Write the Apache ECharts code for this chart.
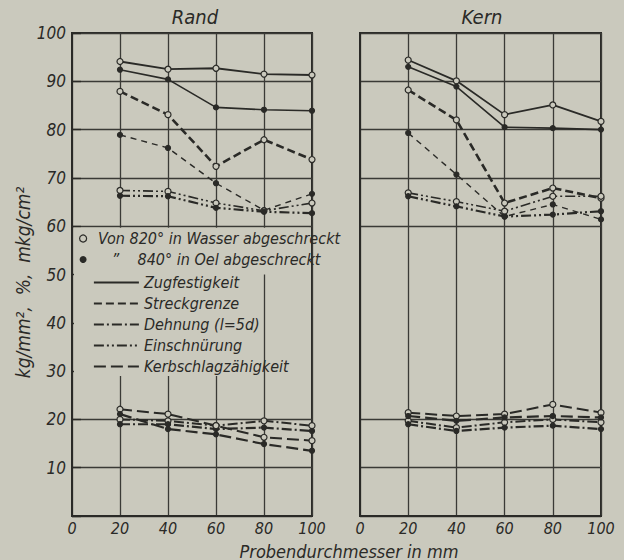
<!DOCTYPE html>
<html><head><meta charset="utf-8">
<script src="https://cdn.jsdelivr.net/npm/echarts@6/dist/echarts.min.js"></script>
<style>html,body{margin:0;padding:0;background:#cac9bd}#c{width:624px;height:560px}</style>
</head><body><div id="c"></div>
<script>
// ---- data ----
const diameters = [20, 40, 60, 80, 100];
const panelTitles = ['Rand', 'Kern'];
const legendQuench = ['Von 820° in Wasser abgeschreckt', '   \u201D    840° in Oel abgeschreckt'];
const legendProps = ['Zugfestigkeit', 'Streckgrenze', 'Dehnung (l=5d)', 'Einschnürung', 'Kerbschlagzähigkeit'];

const randZugWasser    = [94.1, 92.5, 92.7, 91.5, 91.3];
const randZugOel       = [92.4, 90.4, 84.6, 84.1, 83.9];
const randStreckWasser = [87.9, 83.1, 72.4, 77.9, 73.8];
const randStreckOel    = [78.9, 76.2, 68.9, 63.3, 66.7];
const randEinschWasser = [67.4, 67.2, 64.8, 63.2, 64.8];
const randEinschOel    = [66.3, 66.2, 63.8, 63.0, 62.7];
const randDehnWasser   = [20.0, 19.7, 18.7, 19.7, 18.7];
const randDehnOel      = [19.0, 19.0, 18.0, 18.3, 17.6];
const randKerbWasser   = [22.1, 21.1, 18.7, 16.3, 15.6];
const randKerbOel      = [21.1, 18.0, 16.9, 14.9, 13.5];

const kernZugWasser    = [94.4, 90.1, 83.1, 85.1, 81.7];
const kernZugOel       = [93.0, 88.9, 80.5, 80.3, 80.0];
const kernStreckWasser = [88.2, 82.0, 64.8, 67.9, 65.8];
const kernStreckOel    = [79.3, 70.7, 62.0, 64.5, 61.4];
const kernEinschWasser = [66.9, 65.1, 63.1, 66.2, 66.2];
const kernEinschOel    = [66.2, 64.1, 62.0, 62.4, 63.1];
const kernDehnWasser   = [19.7, 18.3, 19.4, 20.0, 19.4];
const kernDehnOel      = [19.0, 17.6, 18.3, 18.7, 18.0];
const kernKerbWasser   = [21.4, 20.7, 21.1, 23.1, 21.4];
const kernKerbOel      = [20.7, 19.7, 20.4, 20.7, 20.4];

// ---- styling ----
const BG = '#cac9bd';
const INK = '#2a2a27';
const GRIDC = '#3a3a36';
const FONT = "'DejaVu Sans Condensed', 'Liberation Sans Narrow', 'DejaVu Sans', sans-serif";
const DASH = {
  zug: 'solid',
  streck: [8, 4],
  dehn: [10, 3, 2, 3],
  einsch: [10, 3, 2, 3, 2, 3],
  kerb: [12, 5]
};
// horizontal grid lines at 30,40,50 are absent in the original
const hColors = [GRIDC, GRIDC, GRIDC, 'rgba(0,0,0,0)', 'rgba(0,0,0,0)', 'rgba(0,0,0,0)', GRIDC, GRIDC, GRIDC, GRIDC, GRIDC];

function mk(name, values, panel, dash, width, water) {
  return {
    type: 'line', name: name, xAxisIndex: panel, yAxisIndex: panel,
    data: diameters.map((d, i) => [d, values[i]]),
    symbol: 'circle', symbolSize: water ? 6 : 5, showSymbol: true,
    lineStyle: { color: INK, width: width, type: dash },
    itemStyle: { color: water ? BG : INK, borderColor: INK, borderWidth: 1.2 },
    z: 3, animation: false, silent: true
  };
}

const series = [
  mk('R Zug W', randZugWasser, 0, DASH.zug, 1.8, true),
  mk('R Zug O', randZugOel, 0, DASH.zug, 1.6, false),
  mk('R Streck W', randStreckWasser, 0, DASH.streck, 2.6, true),
  mk('R Streck O', randStreckOel, 0, [6, 5], 1.4, false),
  mk('R Einsch W', randEinschWasser, 0, DASH.einsch, 1.6, true),
  mk('R Einsch O', randEinschOel, 0, DASH.einsch, 2.2, false),
  mk('R Dehn W', randDehnWasser, 0, DASH.dehn, 2.0, true),
  mk('R Dehn O', randDehnOel, 0, DASH.dehn, 2.2, false),
  mk('R Kerb W', randKerbWasser, 0, DASH.kerb, 2.0, true),
  mk('R Kerb O', randKerbOel, 0, DASH.kerb, 2.2, false),
  mk('K Zug W', kernZugWasser, 1, DASH.zug, 1.8, true),
  mk('K Zug O', kernZugOel, 1, DASH.zug, 1.6, false),
  mk('K Streck W', kernStreckWasser, 1, DASH.streck, 2.6, true),
  mk('K Streck O', kernStreckOel, 1, [6, 5], 1.4, false),
  mk('K Einsch W', kernEinschWasser, 1, DASH.einsch, 1.6, true),
  mk('K Einsch O', kernEinschOel, 1, DASH.einsch, 2.2, false),
  mk('K Dehn W', kernDehnWasser, 1, DASH.dehn, 2.0, true),
  mk('K Dehn O', kernDehnOel, 1, DASH.dehn, 2.2, false),
  mk('K Kerb W', kernKerbWasser, 1, DASH.kerb, 2.0, true),
  mk('K Kerb O', kernKerbOel, 1, DASH.kerb, 2.2, false)
];
// legend-only entries
const propDash = [DASH.zug, DASH.streck, DASH.dehn, DASH.einsch, DASH.kerb];
legendProps.forEach((n, i) => series.push({
  type: 'line', name: n, data: [], xAxisIndex: 0, yAxisIndex: 0, symbol: 'none',
  lineStyle: { color: INK, width: 1.8, type: propDash[i] }
}));
legendQuench.forEach((n, i) => series.push({
  type: 'line', name: n, data: [], xAxisIndex: 0, yAxisIndex: 0, symbol: 'circle',
  itemStyle: { color: i === 0 ? BG : INK, borderColor: INK, borderWidth: 1.2 }
}));

const txt = { color: INK, fontFamily: FONT, fontStyle: 'italic' };

function xAxis(gi) {
  return {
    type: 'value', gridIndex: gi, min: 0, max: 100, interval: 20,
    axisLine: { show: true, lineStyle: { color: INK, width: 2 } },
    axisTick: { show: false },
    axisLabel: Object.assign({ fontSize: 16, margin: 4, lineHeight: 16 }, txt),
    splitLine: { show: true, lineStyle: { color: GRIDC, width: 1.3 } }
  };
}
function yAxis(gi) {
  const a = {
    type: 'value', gridIndex: gi, min: 0, max: 100, interval: 10,
    axisLine: { show: true, lineStyle: { color: INK, width: 2 } },
    axisTick: { show: gi === 0, inside: true, length: 9, lineStyle: { color: INK, width: 1.4 } },
    axisLabel: Object.assign({ show: gi === 0, fontSize: 17, margin: 6,
      formatter: v => (v === 0 ? '' : String(v)) }, txt),
    splitLine: { show: true, lineStyle: { color: hColors, width: 1.3 } }
  };
  if (gi === 0) {
    a.name = 'kg/mm²,  %,  mkg/cm²';
    a.nameLocation = 'middle';
    a.nameRotate = 90;
    a.nameGap = 37;
    a.nameTextStyle = Object.assign({ fontSize: 19, padding: [0, 16, 0, 0] }, txt);
  }
  return a;
}

const chart = echarts.init(document.getElementById('c'), null, { renderer: 'svg' });
chart.setOption({
  backgroundColor: BG,
  animation: false,
  title: [
    { text: panelTitles[0], left: 190, top: 2, textAlign: 'center', textStyle: Object.assign({ fontSize: 20, fontWeight: 'normal' }, txt) },
    { text: panelTitles[1], left: 477, top: 2, textAlign: 'center', textStyle: Object.assign({ fontSize: 20, fontWeight: 'normal' }, txt) },
    { text: 'Probendurchmesser in mm', left: 349, top: 542, padding: 0, textAlign: 'center', textStyle: Object.assign({ fontSize: 18, lineHeight: 18, fontWeight: 'normal' }, txt) }
  ],
  grid: [
    { left: 72, right: 312, top: 33, bottom: 44, show: true, borderColor: INK, borderWidth: 2, backgroundColor: 'transparent', outerBoundsMode: 'none' },
    { left: 360, right: 23, top: 33, bottom: 44, show: true, borderColor: INK, borderWidth: 2, backgroundColor: 'transparent', outerBoundsMode: 'none' }
  ],
  xAxis: [xAxis(0), xAxis(1)],
  yAxis: [yAxis(0), yAxis(1)],
  legend: [
    {
      orient: 'vertical', left: 79, top: 228, padding: 0, itemGap: 0,
      itemWidth: 20, itemHeight: 7, selectedMode: false, z: 5,
      textStyle: Object.assign({ fontSize: 16, lineHeight: 21 }, txt),
      data: [
        { name: legendQuench[0], icon: 'circle', itemStyle: { color: BG, borderColor: INK, borderWidth: 1.2 } },
        { name: legendQuench[1], icon: 'circle', itemStyle: { color: INK, borderColor: INK, borderWidth: 0 } }
      ]
    },
    {
      orient: 'vertical', left: 93, top: 272, padding: 0, itemGap: 0,
      itemWidth: 45, itemHeight: 8, selectedMode: false, z: 5,
      textStyle: Object.assign({ fontSize: 16, lineHeight: 21 }, txt),
      data: legendProps.map((n, i) => ({
        name: n,
        lineStyle: { color: INK, width: 1.8, type: propDash[i] },
        itemStyle: { opacity: 0 }
      }))
    }
  ],
  series: series
});

// cover the grid behind the legend, as in the original
const p00 = chart.convertToPixel({ gridIndex: 0 }, [0, 60]);
const p80 = chart.convertToPixel({ gridIndex: 0 }, [80, 29]);
const p50 = chart.convertToPixel({ gridIndex: 0 }, [100, 50]);
chart.setOption({
  graphic: [
    { type: 'rect', z: 2, silent: true,
      shape: { x: p00[0] + 2, y: p00[1] + 1.5, width: p80[0] - p00[0] - 3.5, height: p80[1] - p00[1] - 1.5 },
      style: { fill: BG } },
    { type: 'rect', z: 2, silent: true,
      shape: { x: p80[0] - 2, y: p00[1] + 1.5, width: p50[0] - p80[0] - 0.5, height: p50[1] - p00[1] - 1.5 },
      style: { fill: BG } }
  ]
});
</script></body></html>
